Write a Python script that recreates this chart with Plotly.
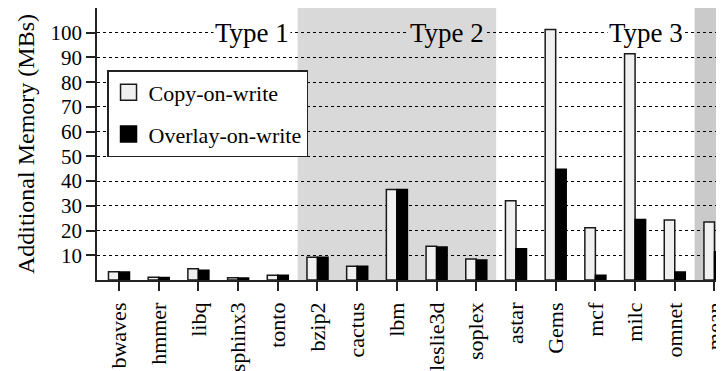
import plotly.graph_objects as go

categories = ["bwaves", "hmmer", "libq", "sphinx3", "tonto", "bzip2", "cactus", "lbm",
              "leslie3d", "soplex", "astar", "Gems", "mcf", "milc", "omnet", "mean"]
copy_on_write = [3.3, 1.1, 4.6, 0.9, 1.9, 9.2, 5.6, 36.6, 13.6, 8.5, 32.0, 101.3, 21.1, 91.5, 24.3, 23.5]
overlay_on_write = [3.2, 1.0, 3.9, 0.8, 1.9, 9.2, 5.6, 36.6, 13.3, 8.1, 12.6, 44.8, 1.9, 24.5, 3.2, 11.4]
y_ticks = [10, 20, 30, 40, 50, 60, 70, 80, 90, 100]
type_labels = ["Type 1", "Type 2", "Type 3"]

FONT = "Liberation Serif"
X_MIN, X_MAX = -0.554, 15.24

fig = go.Figure()
fig.add_trace(go.Bar(x=categories, y=copy_on_write, name="Copy-on-write",
                     marker=dict(color="#f0f0f0", line=dict(color="#1a1a1a", width=1.5)),
                     showlegend=False))
fig.add_trace(go.Bar(x=categories, y=overlay_on_write, name="Overlay-on-write",
                     marker=dict(color="#000000", line=dict(color="#000000", width=1.5)),
                     showlegend=False))
# legend entries
fig.add_trace(go.Scatter(x=[None], y=[None], mode="markers", name="Copy-on-write",
                         legendgroup="a",
                         marker=dict(symbol="square", size=18, color="#f0f0f0",
                                     line=dict(color="#1a1a1a", width=1.5))))
fig.add_trace(go.Scatter(x=[None], y=[None], mode="markers", name="Overlay-on-write",
                         legendgroup="b",
                         marker=dict(symbol="square", size=18, color="#000000",
                                     line=dict(color="#000000", width=1.5))))

shapes = [
    dict(type="rect", xref="x", yref="paper", x0=4.5, x1=9.5, y0=0, y1=1,
         fillcolor="#d9d9d9", line=dict(width=0), layer="below"),
    dict(type="rect", xref="x", yref="paper", x0=14.5, x1=X_MAX, y0=0, y1=1,
         fillcolor="#cacaca", line=dict(width=0), layer="below"),
]

annotations = [
    dict(x=4.33, y=100, xref="x", yref="y", text=type_labels[0], showarrow=False,
         xanchor="right", yanchor="middle", bgcolor="white", borderpad=1,
         font=dict(family=FONT, size=27, color="black")),
    dict(x=9.25, y=100, xref="x", yref="y", text=type_labels[1], showarrow=False,
         xanchor="right", yanchor="middle", bgcolor="#d9d9d9", borderpad=1,
         font=dict(family=FONT, size=27, color="black")),
    dict(x=14.25, y=100, xref="x", yref="y", text=type_labels[2], showarrow=False,
         xanchor="right", yanchor="middle", bgcolor="white", borderpad=1,
         font=dict(family=FONT, size=27, color="black")),
]

# the page body adds an 8px margin, so the figure is drawn 8px smaller
fig.update_layout(
    width=716, height=363,
    margin=dict(l=89, r=0, t=0, b=91, autoexpand=False),
    plot_bgcolor="white", paper_bgcolor="white",
    font=dict(family=FONT, size=21, color="black"),
    barmode="group", bargap=0.47, bargroupgap=0,
    shapes=shapes, annotations=annotations,
    legend=dict(x=0.016, y=0.772, xanchor="left", yanchor="top",
                bgcolor="white", bordercolor="#222222", borderwidth=1.5,
                font=dict(family=FONT, size=22), tracegroupgap=10,
                itemsizing="trace"),
    xaxis=dict(type="category", range=[X_MIN, X_MAX], tickangle=-90, automargin=False,
               ticks="outside", ticklen=9, tickwidth=1.5, tickcolor="#222222",
               ticklabelstandoff=3,
               showline=True, linecolor="#222222", linewidth=1.5, mirror=True,
               showgrid=False, tickfont=dict(family=FONT, size=22)),
    yaxis=dict(range=[0, 110], tickvals=y_ticks, ticks="outside", ticklen=9, automargin=False,
               tickwidth=1.5, tickcolor="#222222",
               showline=True, linecolor="#222222", linewidth=1.5,
               showgrid=True, gridcolor="#000000", gridwidth=1, griddash="dot",
               zeroline=False, tickfont=dict(family=FONT, size=21),
               title=dict(text="Additional Memory (MBs)", font=dict(family=FONT, size=24),
                          standoff=9)),
)

fig.write_html("out.html")
